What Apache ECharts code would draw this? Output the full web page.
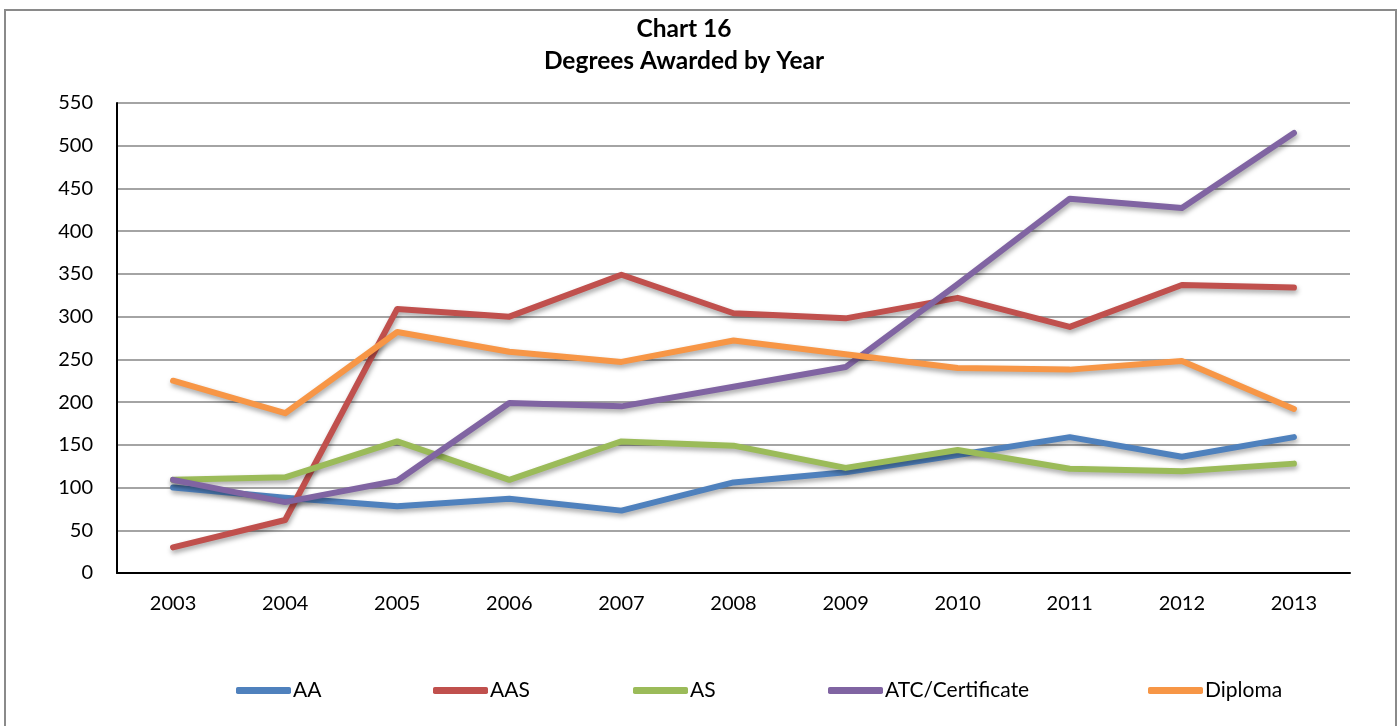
<!DOCTYPE html>
<html><head><meta charset="utf-8">
<script src="https://cdn.jsdelivr.net/npm/echarts@6/dist/echarts.min.js"></script>
<style>html,body{margin:0;padding:0;background:#fff}#c{width:1398px;height:726px}</style>
</head><body><div id="c"></div>
<script>
const years = ['2003','2004','2005','2006','2007','2008','2009','2010','2011','2012','2013'];
const AA = [100, 88, 78, 87, 73, 106, 118, 138, 159, 136, 159];
const AAS = [30, 62, 309, 300, 349, 304, 298, 322, 288, 337, 334];
const AS = [109, 112, 154, 109, 154, 149, 123, 144, 122, 119, 128];
const ATC = [109, 83, 108, 199, 195, 218, 241, 338, 438, 427, 515];
const Diploma = [225, 187, 282, 259, 247, 272, 256, 240, 238, 248, 192];
const yTicks = [0,50,100,150,200,250,300,350,400,450,500,550];

const names = ['AA','AAS','AS','ATC/Certificate','Diploma'];
const datas = [AA, AAS, AS, ATC, Diploma];
const colors = ['#4F81BD','#C0504D','#9BBB59','#8064A2','#F79646'];
const legendLeft = [231, 428, 628, 823, 1143];
const font = 'Lato, "Open Sans", sans-serif';

const chart = echarts.init(document.getElementById('c'));
chart.setOption({
  animation: false,
  title: {
    text: 'Chart 16\nDegrees Awarded by Year',
    left: 679, top: 8, textAlign: 'center',
    textStyle: {fontFamily: font, fontSize: 24.5, fontWeight: 'bold', color: '#000', lineHeight: 32}
  },
  graphic: [{type:'rect', shape:{x:5,y:10,width:1391,height:730}, style:{fill:'none', stroke:'#8a8a8a', lineWidth:2}, z:-1}],
  legend: names.map((n,i)=>({
    data:[n], left: legendLeft[i], top: 675, itemWidth: 55, itemHeight: 7, icon: 'roundRect', itemGap: 2,
    textStyle:{fontFamily: font, fontSize: 21, color:'#000', padding:[0,0,0,-3]}
  })),
  grid: {left: 117, right: 48, top: 103, bottom: 153, containLabel: false},
  xAxis: {
    type: 'category', data: years, boundaryGap: true,
    axisLine: {lineStyle: {color: '#000', width: 2}},
    axisTick: {show: false},
    axisLabel: {fontFamily: font, fontSize: 20, color: '#000', margin: 21}
  },
  yAxis: {
    type: 'value', min: 0, max: 550, interval: 50,
    axisLine: {show: true, lineStyle: {color: '#000', width: 2}},
    axisTick: {show: false},
    axisLabel: {fontFamily: font, fontSize: 20, color: '#000', margin: 24,
      formatter: v => yTicks.includes(v) ? String(v) : ''},
    splitLine: {lineStyle: {color: '#868686', width: 1.5}}
  },
  series: names.map((n,i)=>({
    name: n, type: 'line', data: datas[i], symbol: 'none',
    lineStyle: {color: colors[i], width: 6, cap: 'round', join: 'round',
      shadowColor: 'rgba(0,0,0,0.35)', shadowBlur: 5, shadowOffsetX: 1, shadowOffsetY: 3},
    itemStyle: {color: colors[i]}
  }))
});
</script></body></html>
